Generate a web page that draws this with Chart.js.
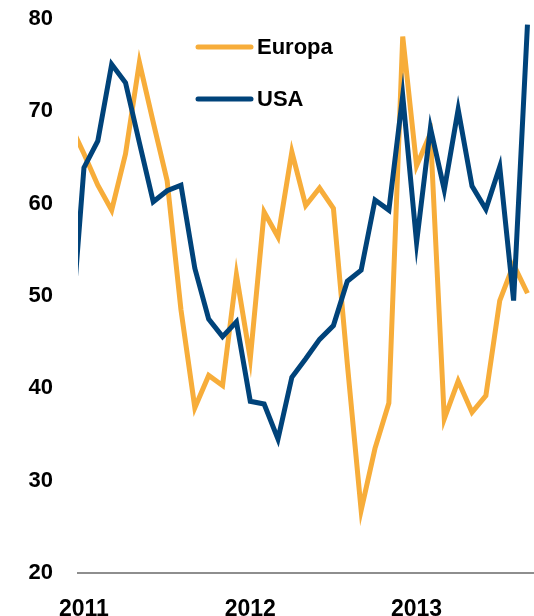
<!DOCTYPE html>
<html lang="de">
<head>
    <meta charset="UTF-8">
    <title>Europa vs USA</title>
    <script src="https://cdn.jsdelivr.net/npm/chart.js"></script>
    <style>
        body {
            margin: 0;
            background: #ffffff;
        }
        #chart {
            display: block;
        }
    </style>
</head>
<body>
    <canvas id="chart" width="534" height="616"></canvas>
    <script>
        // month index: -1 = Dec 2010, 0 = Jan 2011 ... 32 = Sep 2013
        const months = [-1, 0, 1, 2, 3, 4, 5, 6, 7, 8, 9, 10, 11, 12, 13, 14, 15, 16,
            17, 18, 19, 20, 21, 22, 23, 24, 25, 26, 27, 28, 29, 30, 31, 32];
        const europa = [68.6, 65.4, 62.0, 59.3, 65.4, 75.3, 68.8, 62.5, 48.5, 37.9, 41.4, 40.3,
            52.3, 43.2, 59.1, 56.4, 65.6, 59.8, 61.7, 59.5, 42.7, 26.8, 33.5, 38.4,
            78.1, 64.1, 67.6, 36.7, 40.8, 37.4, 39.2, 49.5, 53.4, 50.3];
        const usa = [44.5, 63.9, 66.8, 75.1, 73.1, 66.6, 60.2, 61.4, 62.0, 53.0, 47.5, 45.6,
            47.2, 38.6, 38.3, 34.5, 41.2, 43.2, 45.3, 46.8, 51.6, 52.8, 60.4, 59.3,
            71.7, 55.8, 68.2, 61.5, 70.2, 61.9, 59.4, 64.0, 49.5, 79.4];
        const yearTicks = [0, 12, 24];
        const yearLabels = ['2011', '2012', '2013'];
        const yTicks = [20, 30, 40, 50, 60, 70, 80];

        const FONT = "Arial, 'Liberation Sans', sans-serif";
        const ORANGE = '#f7ad3a';
        const NAVY = '#00437a';

        function toPoints(values) {
            return months.map((m, i) => ({ x: m, y: values[i] }));
        }

        // legend drawn inside the plot, upper middle
        const insideLegend = {
            id: 'insideLegend',
            afterDraw(chart) {
                const ctx = chart.ctx;
                const items = [
                    { label: 'Europa', color: ORANGE, y: 47 },
                    { label: 'USA', color: NAVY, y: 99 }
                ];
                ctx.save();
                items.forEach(item => {
                    ctx.strokeStyle = item.color;
                    ctx.lineWidth = 5;
                    ctx.lineCap = 'round';
                    ctx.beginPath();
                    ctx.moveTo(198, item.y);
                    ctx.lineTo(251, item.y);
                    ctx.stroke();
                    ctx.fillStyle = '#000';
                    ctx.font = 'bold 22px ' + FONT;
                    ctx.textBaseline = 'middle';
                    ctx.textAlign = 'left';
                    ctx.fillText(item.label, 257, item.y + 1);
                });
                ctx.restore();
            }
        };

        new Chart(document.getElementById('chart').getContext('2d'), {
            type: 'line',
            data: {
                datasets: [
                    {
                        label: 'USA',
                        data: toPoints(usa),
                        borderColor: NAVY,
                        borderWidth: 5,
                        pointRadius: 0,
                        tension: 0,
                        clip: 0,
                        order: 0
                    },
                    {
                        label: 'Europa',
                        data: toPoints(europa),
                        borderColor: ORANGE,
                        borderWidth: 5,
                        pointRadius: 0,
                        tension: 0,
                        clip: 0,
                        order: 1
                    }
                ]
            },
            options: {
                responsive: false,
                animation: false,
                layout: { padding: { top: 19, right: 1, left: 0, bottom: 0 } },
                plugins: {
                    legend: { display: false },
                    tooltip: { enabled: false }
                },
                scales: {
                    x: {
                        type: 'linear',
                        min: -0.43,
                        max: 32.4,
                        grid: { display: false, drawTicks: false },
                        border: { display: true, color: '#8e8e8e', width: 2 },
                        afterBuildTicks: scale => {
                            scale.ticks = yearTicks.map(v => ({ value: v }));
                        },
                        afterFit: scale => {
                            scale.height = 43;
                            scale.paddingLeft = 0;
                            scale.paddingRight = 0;
                        },
                        ticks: {
                            autoSkip: false,
                            maxRotation: 0,
                            padding: 23,
                            color: '#000',
                            font: { family: FONT, size: 23, weight: 'bold' },
                            callback: v => yearLabels[yearTicks.indexOf(v)]
                        }
                    },
                    y: {
                        min: 20,
                        max: 80,
                        grid: { display: false, drawTicks: false },
                        border: { display: false },
                        afterBuildTicks: scale => {
                            scale.ticks = yTicks.map(v => ({ value: v }));
                        },
                        afterFit: scale => {
                            scale.width = 78;
                            scale.paddingTop = 0;
                            scale.paddingBottom = 0;
                        },
                        ticks: {
                            padding: 25,
                            color: '#000',
                            font: { family: FONT, size: 22, weight: 'bold' }
                        }
                    }
                }
            },
            plugins: [insideLegend]
        });
    </script>
</body>
</html>
